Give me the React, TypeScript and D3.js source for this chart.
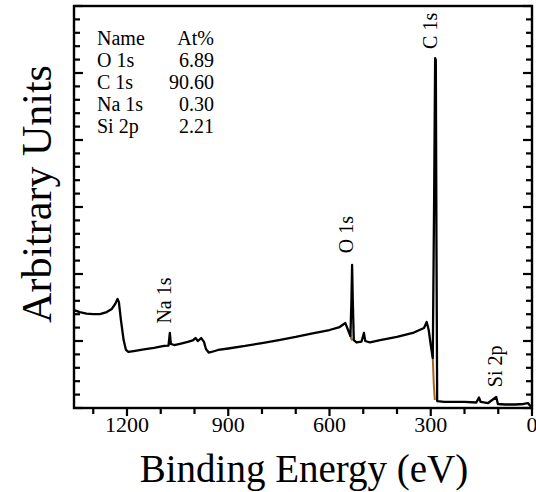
import React, { useEffect, useRef } from 'react';
import * as d3 from 'd3';

// survey spectrum: [binding energy (eV), intensity (a.u.)]
const spectrum: [number, number][] = [
  [1357, 7.31], [1340, 7.16], [1320, 7.05], [1300, 7.01], [1280, 7.01], [1260, 7.16],
  [1245, 7.39], [1235, 7.76], [1228, 8.13], [1224, 7.9], [1218, 6.57], [1210, 5.07],
  [1203, 4.33], [1196, 4.18], [1180, 4.25], [1150, 4.37], [1120, 4.48], [1090, 4.63],
  [1077, 4.66], [1073, 5.6], [1070, 4.78], [1060, 4.7], [1040, 4.81], [1020, 4.93],
  [1005, 5.04], [997, 5.22], [990, 5.0], [980, 5.22], [972, 4.93], [966, 4.4],
  [958, 4.14], [950, 4.18], [930, 4.33], [900, 4.44], [850, 4.63], [800, 4.85],
  [750, 5.07], [700, 5.3], [650, 5.56], [600, 5.82], [570, 6.04], [553, 6.34],
  [545, 5.82], [538, 5.37], [535, 8.06], [533, 10.67], [531, 8.06], [528, 5.07],
  [520, 4.89], [505, 4.96], [498, 5.6], [494, 5.0], [480, 4.89], [450, 5.07],
  [400, 5.3], [350, 5.63], [320, 5.97], [312, 6.42], [306, 5.82], [300, 4.7],
  [294, 3.73], [290, 15.5], [287, 26.1], [285, 25.97], [283, 11.8], [281, 0.52],
  [260, 0.45], [200, 0.45], [165, 0.41], [157, 0.78], [152, 0.45], [130, 0.37],
  [106, 0.82], [101, 0.3], [80, 0.26], [50, 0.26], [25, 0.3], [12, 0.37],
  [5, 0.15], [0, 0.04],
];

// background under the steep edges (brown)
const backgroundC: [number, number][] = [[296, 4.2], [294, 3.73], [291, 1.8], [288, 0.6]];
const backgroundO: [number, number][] = [[540, 5.6], [536, 5.2], [532, 5.05]];

// peak labels: [text, energy, bottom intensity]
const peakLabels: [string, number, number][] = [
  ['Na 1s', 1070, 6.3],
  ['O 1s', 530, 11.55],
  ['C 1s', 282, 26.8],
  ['Si 2p', 89, 1.55],
];

const tableNames = ['Name', 'O 1s', 'C 1s', 'Na 1s', 'Si 2p'];
const tableValues = ['At%', '6.89', '90.60', '0.30', '2.21'];

const xTicks = d3.range(0, 1301, 100);
const xLabels = [0, 300, 600, 900, 1200];
const yTicks = d3.range(0, 31, 1);

const W = 536;
const H = 492;
const FONT = '"Liberation Serif", "Times New Roman", serif';

export default function App() {
  const ref = useRef<SVGSVGElement>(null);

  useEffect(() => {
    const svg = d3.select(ref.current);
    svg.selectAll('*').remove();

    const left = 74, right = 532, top = 6, bottom = 408;
    const x = d3.scaleLinear().domain([1357, 0]).range([left, right]);
    const y = d3.scaleLinear().domain([0, 30]).range([bottom, top]);

    // bottom ticks, outward; every 300 eV longer
    xTicks.forEach(d => {
      svg.append('line')
        .attr('x1', x(d)).attr('x2', x(d))
        .attr('y1', bottom).attr('y2', bottom + (d % 300 === 0 ? 8 : 6))
        .attr('stroke', '#000').attr('stroke-width', 2.2);
    });

    // left and right ticks, inward; every 5th longer
    yTicks.forEach(d => {
      const len = d % 5 === 0 ? 9 : 6;
      svg.append('line')
        .attr('x1', left).attr('x2', left + len)
        .attr('y1', y(d)).attr('y2', y(d))
        .attr('stroke', '#000').attr('stroke-width', 2.2);
      svg.append('line')
        .attr('x1', right).attr('x2', right - len)
        .attr('y1', y(d)).attr('y2', y(d))
        .attr('stroke', '#000').attr('stroke-width', 2.2);
    });

    svg.append('g').selectAll('text').data(xLabels).join('text')
      .attr('x', d => x(d)).attr('y', bottom + 24)
      .attr('text-anchor', 'middle')
      .attr('font-family', FONT).attr('font-size', 22).attr('fill', '#000')
      .text(d => String(d));

    const line = d3.line<[number, number]>().x(d => x(d[0])).y(d => y(d[1]));

    [backgroundC, backgroundO].forEach(bg => {
      svg.append('path').datum(bg)
        .attr('d', line).attr('fill', 'none')
        .attr('stroke', '#a8641e').attr('stroke-width', 2);
    });

    svg.append('path').datum(spectrum)
      .attr('d', line).attr('fill', 'none')
      .attr('stroke', '#000').attr('stroke-width', 2.3)
      .attr('stroke-linejoin', 'round');

    // frame
    svg.append('rect')
      .attr('x', left).attr('y', top)
      .attr('width', right - left).attr('height', bottom - top)
      .attr('fill', 'none').attr('stroke', '#000').attr('stroke-width', 2.4);

    // peak labels, rotated
    peakLabels.forEach(([t, e, v]) => {
      svg.append('text')
        .attr('transform', `translate(${x(e)},${y(v)}) rotate(-90)`)
        .attr('font-family', FONT).attr('font-size', 20).attr('fill', '#000')
        .text(t);
    });

    // composition table
    tableNames.forEach((n, i) => {
      svg.append('text')
        .attr('x', 97).attr('y', 45 + i * 22)
        .attr('font-family', FONT).attr('font-size', 20).attr('fill', '#000')
        .text(n);
      svg.append('text')
        .attr('x', 214).attr('y', 45 + i * 22)
        .attr('text-anchor', 'end')
        .attr('font-family', FONT).attr('font-size', 20).attr('fill', '#000')
        .text(tableValues[i]);
    });

    // axis titles
    svg.append('text')
      .attr('x', (left + right) / 2 + 1).attr('y', 482)
      .attr('text-anchor', 'middle')
      .attr('font-family', FONT).attr('font-size', 39).attr('fill', '#000')
      .text('Binding Energy (eV)');
    svg.append('text')
      .attr('transform', `translate(51,194) rotate(-90)`)
      .attr('text-anchor', 'middle')
      .attr('font-family', FONT).attr('font-size', 42).attr('fill', '#000')
      .text('Arbitrary Units');
  }, []);

  return (
    <svg ref={ref} width={W} height={H}
      style={{ position: 'absolute', left: 0, top: 0, background: '#fff' }} />
  );
}
